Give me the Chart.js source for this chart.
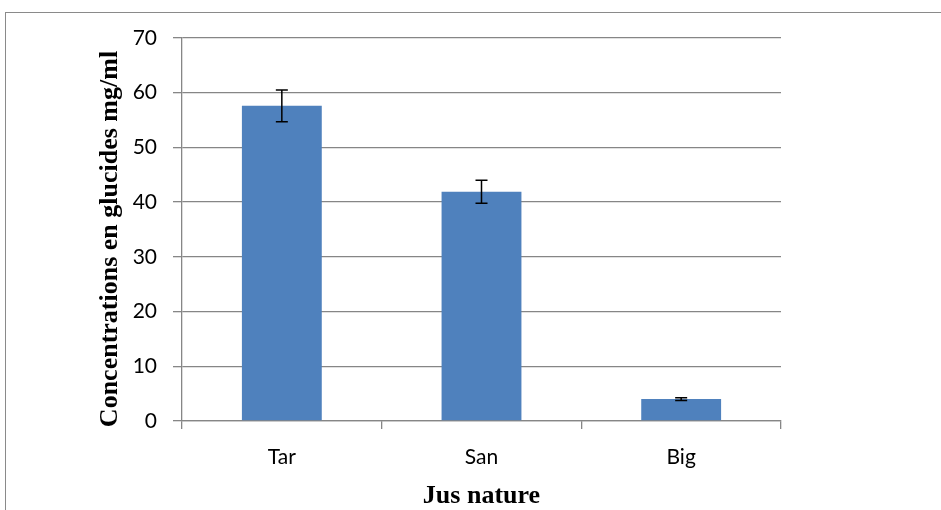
<!DOCTYPE html>
<html>
<head>
<meta charset="utf-8">
<script src="https://cdn.jsdelivr.net/npm/chart.js@4.4.1/dist/chart.umd.min.js"></script>
<style>
  html, body { margin: 0; padding: 0; background: #fff; overflow: hidden; }
  #wrap { position: relative; width: 941px; height: 510px; }
  #frame { position: absolute; left: 5px; top: 12px; width: 960px; height: 520px; border: 1px solid #8a8a8a; }
  #chart { position: absolute; left: 0; top: 0; }
</style>
</head>
<body>
<div id="wrap">
  <div id="frame"></div>
  <canvas id="chart" width="941" height="510"></canvas>
</div>
<script>
const categories = ['Tar', 'San', 'Big'];
const concentrations = [57.6, 41.9, 4.0];
const errors = [2.9, 2.1, 0.25];
const yTicks = [0, 10, 20, 30, 40, 50, 60, 70];

const yTitle = 'Concentrations en glucides mg/ml';
const xTitle = 'Jus nature';

const axisColor = '#868686';

// error bars drawn on top of the bars, using the y scale
const errorBars = {
    id: 'errorBars',
    afterDatasetsDraw(chart) {
        const ctx = chart.ctx;
        const y = chart.scales.y;
        const meta = chart.getDatasetMeta(0);
        ctx.save();
        ctx.strokeStyle = '#000';
        ctx.lineWidth = 1.5;
        meta.data.forEach((bar, i) => {
            const top = y.getPixelForValue(concentrations[i] + errors[i]);
            const bot = y.getPixelForValue(concentrations[i] - errors[i]);
            ctx.beginPath();
            ctx.moveTo(bar.x, top);
            ctx.lineTo(bar.x, bot);
            ctx.moveTo(bar.x - 6, top);
            ctx.lineTo(bar.x + 6, top);
            ctx.moveTo(bar.x - 6, bot);
            ctx.lineTo(bar.x + 6, bot);
            ctx.stroke();
        });
        ctx.restore();
    }
};

// axis titles
const axisTitles = {
    id: 'axisTitles',
    afterDraw(chart) {
        const ctx = chart.ctx;
        const area = chart.chartArea;
        ctx.save();
        ctx.fillStyle = '#000';
        ctx.font = 'bold 26px "Liberation Serif", "Times New Roman", serif';
        ctx.textAlign = 'center';
        ctx.textBaseline = 'alphabetic';
        ctx.fillText(xTitle, (area.left + area.right) / 2, 503);
        ctx.translate(117, 239);
        ctx.rotate(-Math.PI / 2);
        ctx.fillText(yTitle, 0, 0);
        ctx.restore();
    }
};

const ctx = document.getElementById('chart').getContext('2d');
new Chart(ctx, {
    type: 'bar',
    data: {
        labels: categories,
        datasets: [{
            data: concentrations,
            backgroundColor: '#4f81bd',
            barPercentage: 0.4,
            categoryPercentage: 1
        }]
    },
    options: {
        responsive: false,
        animation: false,
        layout: { padding: { left: 0, top: 38, right: 160, bottom: 0 } },
        plugins: {
            legend: { display: false },
            tooltip: { enabled: false }
        },
        scales: {
            x: {
                offset: true,
                grid: {
                    offset: true,
                    drawOnChartArea: false,
                    color: axisColor,
                    lineWidth: 1.3,
                    tickLength: 8
                },
                border: { color: axisColor, width: 1.3 },
                ticks: {
                    color: '#000',
                    padding: 16,
                    font: { family: 'Lato', size: 21 }
                },
                afterFit(scale) {
                    scale.height = 89;
                    scale.paddingLeft = 0;
                    scale.paddingRight = 0;
                }
            },
            y: {
                min: 0,
                max: 70,
                afterBuildTicks(scale) {
                    scale.ticks = yTicks.map(v => ({ value: v }));
                },
                grid: { color: axisColor, lineWidth: 1.3, tickLength: 9 },
                border: { color: axisColor, width: 1.3 },
                ticks: {
                    color: '#000',
                    padding: 16,
                    font: { family: 'Lato', size: 21 }
                },
                afterFit(scale) {
                    scale.width = 182;
                    scale.paddingTop = 0;
                    scale.paddingBottom = 0;
                }
            }
        }
    },
    plugins: [errorBars, axisTitles]
});
</script>
</body>
</html>
